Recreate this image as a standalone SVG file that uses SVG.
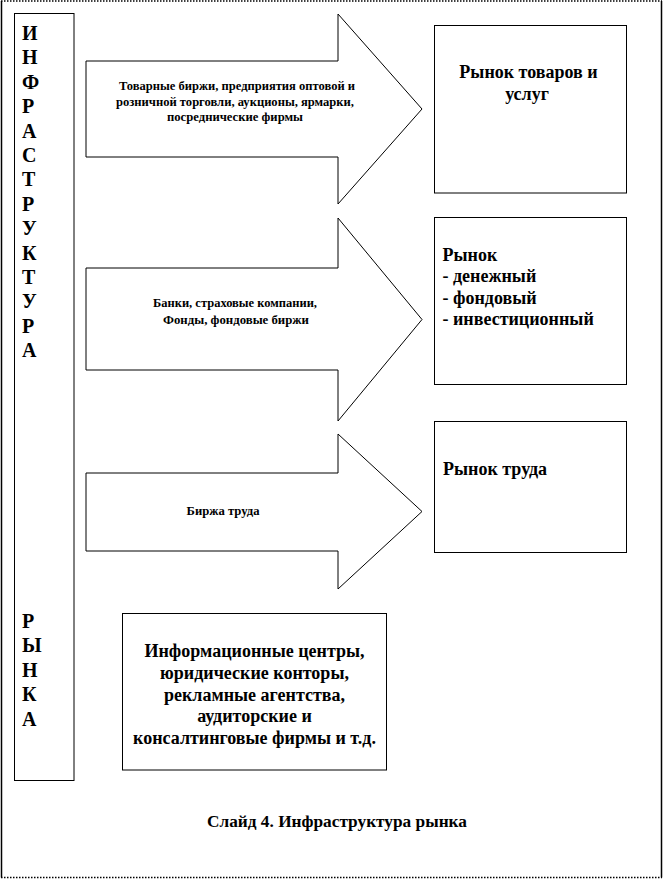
<svg xmlns="http://www.w3.org/2000/svg" width="663" height="879" viewBox="0 0 663 879">
  <style>
    .shape { fill: #ffffff; stroke: #000000; stroke-width: 1; }
    text { font-family: "Liberation Serif", "Times New Roman", serif; font-weight: bold; fill: #000000; }
    text.big { font-size: 18px; }
    text.cap { font-size: 17.3px; }
    text.letter { font-size: 20px; }
    text.small { font-size: 12.5px; }
    text.mid { text-anchor: middle; }
    .frame { stroke: #000000; stroke-width: 1.5; fill: none; }
    .dots { stroke-dasharray: 1.5 1.5; }
  </style>
  <rect x="0" y="0" width="663" height="879" fill="#ffffff"/>
  <g id="frame">
    <line class="frame dots" x1="1" y1="1" x2="662" y2="1"/>
    <line class="frame dots" x1="1" y1="877.5" x2="662" y2="877.5"/>
    <line class="frame" x1="1.5" y1="1" x2="1.5" y2="877.5"/>
    <line class="frame" x1="661.5" y1="1" x2="661.5" y2="877.5"/>
  </g>

  <g id="infrastructure">
    <rect class="shape" x="14.5" y="13.5" width="59.5" height="767"/>
    <text class="letter" x="22" y="39.5">И</text>
    <text class="letter" x="22" y="64">Н</text>
    <text class="letter" x="22" y="88.5">Ф</text>
    <text class="letter" x="22" y="113">Р</text>
    <text class="letter" x="22" y="137.5">А</text>
    <text class="letter" x="22" y="162">С</text>
    <text class="letter" x="22" y="186">Т</text>
    <text class="letter" x="22" y="210.5">Р</text>
    <text class="letter" x="22" y="235">У</text>
    <text class="letter" x="22" y="259.5">К</text>
    <text class="letter" x="22" y="284">Т</text>
    <text class="letter" x="22" y="308">У</text>
    <text class="letter" x="22" y="332.5">Р</text>
    <text class="letter" x="22" y="357">А</text>
    <text class="letter" x="22" y="628">Р</text>
    <text class="letter" x="22" y="652">Ы</text>
    <text class="letter" x="22" y="676.5">Н</text>
    <text class="letter" x="22" y="701">К</text>
    <text class="letter" x="22" y="725.5">А</text>
  </g>

  <g id="connectors">
    <g id="arrow-goods">
      <polygon class="shape" points="86,61 338,61 338,14 422,109 338,204 338,157 86,157"/>
      <text class="small mid" x="237" y="90" textLength="236" lengthAdjust="spacingAndGlyphs">Товарные биржи, предприятия оптовой и</text>
      <text class="small mid" x="235" y="105.5" textLength="238" lengthAdjust="spacingAndGlyphs">розничной торговли, аукционы, ярмарки,</text>
      <text class="small mid" x="235" y="121" textLength="136" lengthAdjust="spacingAndGlyphs">посреднические фирмы</text>
    </g>
    <g id="arrow-finance">
      <polygon class="shape" points="86,268 338,268 338,218 422,319.5 338,421 338,370 86,370"/>
      <text class="small mid" x="235" y="306.5" textLength="164" lengthAdjust="spacingAndGlyphs">Банки, страховые компании,</text>
      <text class="small mid" x="236" y="323.5" textLength="146" lengthAdjust="spacingAndGlyphs">Фонды, фондовые биржи</text>
    </g>
    <g id="arrow-labour">
      <polygon class="shape" points="86,473 338,473 338,434 422,511.5 338,589 338,551 86,551"/>
      <text class="small mid" x="223" y="515" textLength="73" lengthAdjust="spacingAndGlyphs">Биржа труда</text>
    </g>
  </g>

  <g id="market-goods">
    <rect class="shape" x="434.5" y="25.5" width="192" height="167.5"/>
    <text class="big mid" x="528.5" y="78.3">Рынок товаров и</text>
    <text class="big mid" x="527" y="100">услуг</text>
  </g>

  <g id="market-finance">
    <rect class="shape" x="434.5" y="217.5" width="192" height="167"/>
    <text class="big" x="442.5" y="260.7">Рынок</text>
    <text class="big" x="442.5" y="282.1">- денежный</text>
    <text class="big" x="442.5" y="303.5">- фондовый</text>
    <text class="big" x="442.5" y="324.9">- инвестиционный</text>
  </g>

  <g id="market-labour">
    <rect class="shape" x="434.5" y="421.5" width="192" height="131"/>
    <text class="big" x="443" y="475">Рынок труда</text>
  </g>

  <g id="info-services">
    <rect class="shape" x="122.5" y="613.5" width="264" height="156.5"/>
    <text class="big mid" x="254.5" y="656.7">Информационные центры,</text>
    <text class="big mid" x="254.5" y="678.6">юридические конторы,</text>
    <text class="big mid" x="254.5" y="700.5">рекламные агентства,</text>
    <text class="big mid" x="254.5" y="722.4">аудиторские и</text>
    <text class="big mid" x="254.5" y="744.3">консалтинговые фирмы и т.д.</text>
  </g>

  <g id="caption">
    <text class="cap mid" x="337" y="826.7">Слайд 4. Инфраструктура рынка</text>
  </g>
</svg>
